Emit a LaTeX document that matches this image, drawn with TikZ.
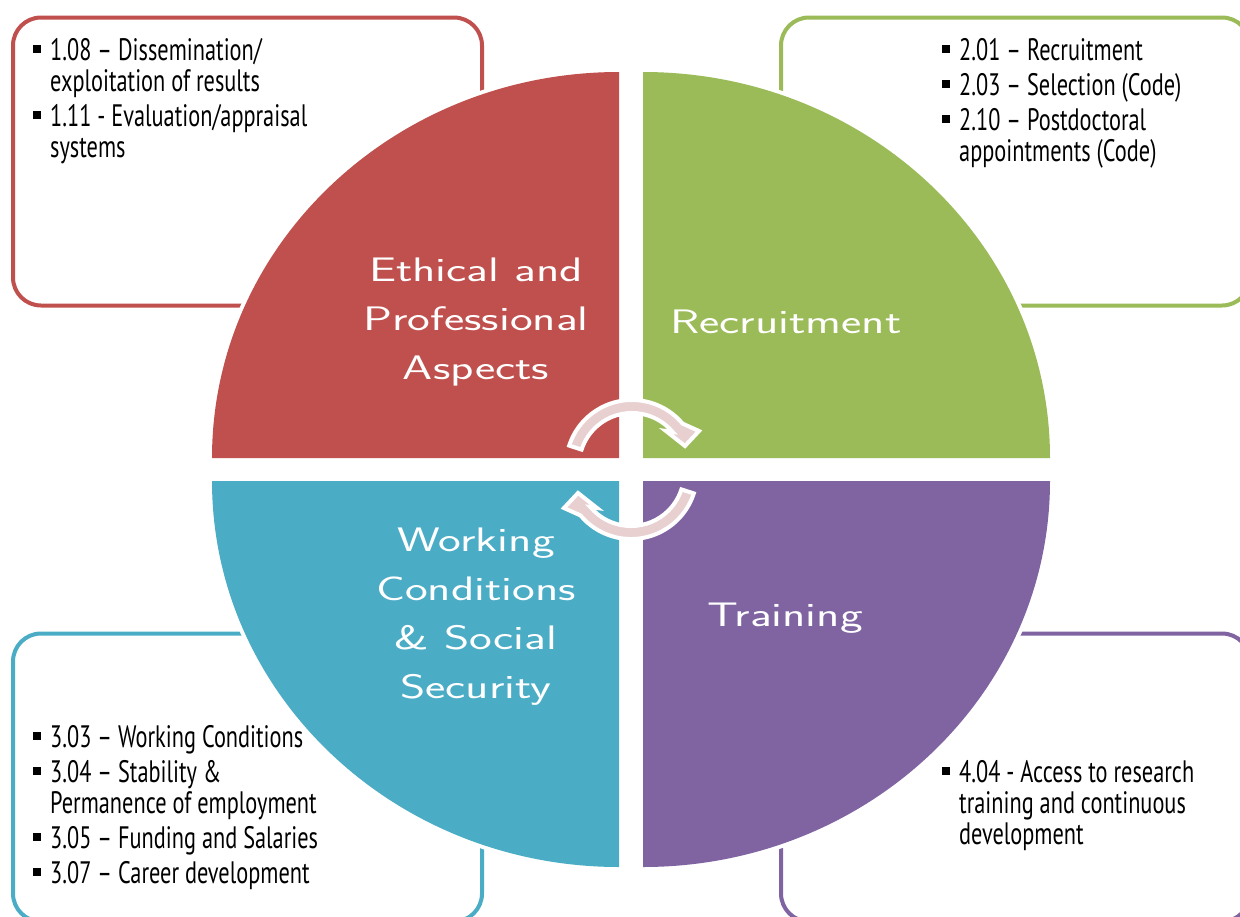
\documentclass[tikz,border=0pt]{standalone}
\usepackage{fontspec}
\newfontfamily\bulfont[FakeStretch=0.72]{PT Sans}
\newfontfamily\handfont[FakeStretch=1.42]{lmsans17-regular.otf}
\definecolor{qred}{HTML}{C0504D}
\definecolor{qgreen}{HTML}{9BBB59}
\definecolor{qblue}{HTML}{4BACC6}
\definecolor{qpurple}{HTML}{8064A2}
\definecolor{arrowpink}{HTML}{E8CFD0}
\newcommand\bulsetup{\bulfont\fontsize{31}{31}\selectfont}
\newcommand\handsetup{\handfont\fontsize{34}{49}\selectfont}
\newcommand\bul{\makebox[17pt][l]{\raisebox{7pt}{\rule{8pt}{8pt}}}}
\newcommand\ind{\hspace*{17pt}}
\tikzset{
  boxline/.style={line width=4pt, rounded corners=28pt},
  quadout/.style={draw=white, line width=8pt},
  arrowshape/.style={fill=arrowpink, draw=white, line width=4pt, line join=miter},
  bultext/.style={anchor=base west, inner sep=0pt, text=black},
  quadlabel/.style={anchor=base, inner sep=0pt, text=white},
}
\begin{document}
\begin{tikzpicture}[x=1pt,y=-1pt]
\useasboundingbox (0,0) rectangle (1240,916);
\clip (0,0) rectangle (1240,916);
% outer boxes
\draw[boxline, draw=qred]    (13,17.5)  rectangle (482,305.5);
\draw[boxline, draw=qgreen]  (781,17.5) rectangle (1250,305.5);
\draw[boxline, draw=qblue]   (13,633.5) rectangle (482,921.5);
\draw[boxline, draw=qpurple] (781,633.5) rectangle (1250,921.5);
% quadrant white outlines
\path[quadout] (619,458) -- (212,458) arc[start angle=180, end angle=270, x radius=407, y radius=386] -- cycle;
\path[quadout] (643,458) -- (643,72) arc[start angle=270, end angle=360, x radius=407, y radius=386] -- cycle;
\path[quadout] (619,481) -- (212,481) arc[start angle=180, end angle=90, x radius=407, y radius=386] -- cycle;
\path[quadout] (643,481) -- (1050,481) arc[start angle=0, end angle=90, x radius=407, y radius=386] -- cycle;
% quadrants
\fill[qred]    (619,458) -- (212,458) arc[start angle=180, end angle=270, x radius=407, y radius=386] -- cycle;
\fill[qgreen]  (643,458) -- (643,72) arc[start angle=270, end angle=360, x radius=407, y radius=386] -- cycle;
\fill[qblue]   (619,481) -- (212,481) arc[start angle=180, end angle=90, x radius=407, y radius=386] -- cycle;
\fill[qpurple] (643,481) -- (1050,481) arc[start angle=0, end angle=90, x radius=407, y radius=386] -- cycle;
% quadrant labels
\node[quadlabel] (ethical) at (476,281) {\parbox[t]{300pt}{\centering\handsetup Ethical and\\Professional\\Aspects}};
\node[quadlabel] (recruit) at (786,333) {\handsetup Recruitment};
\node[quadlabel] (working) at (476,551) {\parbox[t]{300pt}{\centering\handsetup Working\\Conditions\\\& Social\\Security}};
\node[quadlabel] (training) at (785,626) {\handsetup Training};
% circular arrows
\path[arrowshape] (569.2,445.6) arc[start angle=198, end angle=320, radius=66] -- (699,431) -- (685,446) -- (666,431) -- (672.6,431.9) arc[start angle=320, end angle=198, radius=53] -- cycle;
\begin{scope}[rotate around={180:(631.5,469.5)}]
\path[arrowshape] (569.2,445.6) arc[start angle=198, end angle=320, radius=66] -- (699,431) -- (685,446) -- (666,431) -- (672.6,431.9) arc[start angle=320, end angle=198, radius=53] -- cycle;
\end{scope}
% bullet texts
\node[bultext] (t1) at (33,60) {\parbox[t]{440pt}{\bulsetup
\bul 1.08 – Dissemination/\\
\ind exploitation of results\\[4pt]
\bul 1.11 - Evaluation/appraisal\\
\ind systems}};
\node[bultext] (t2) at (942,60) {\parbox[t]{300pt}{\bulsetup
\bul 2.01 – Recruitment\\[4pt]
\bul 2.03 – Selection (Code)\\[4pt]
\bul 2.10 – Postdoctoral\\
\ind appointments (Code)}};
\node[bultext] (t3) at (33,747) {\parbox[t]{440pt}{\bulsetup
\bul 3.03 – Working Conditions\\[4pt]
\bul 3.04 – Stability \&\\
\ind Permanence of employment\\[4pt]
\bul 3.05 – Funding and Salaries\\[4pt]
\bul 3.07 – Career development}};
\node[bultext] (t4) at (942,782) {\parbox[t]{300pt}{\bulsetup
\bul 4.04 - Access to research\\
\ind training and continuous\\
\ind development}};
\end{tikzpicture}
\end{document}
